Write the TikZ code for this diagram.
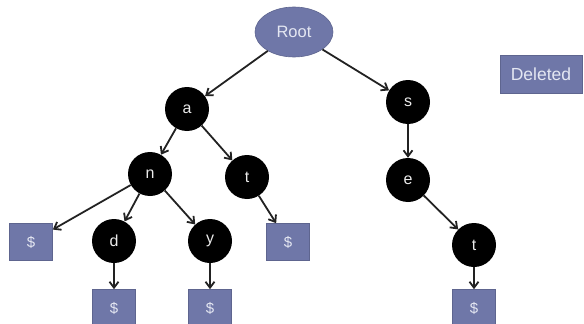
\documentclass[tikz,border=0pt]{standalone}
\usepackage{fontspec}
\setmainfont{Liberation Sans}
\usetikzlibrary{arrows.meta,shapes.geometric}
\definecolor{boxblue}{HTML}{6F77A8}
\definecolor{boxtext}{HTML}{E4E7F2}
\definecolor{linkgray}{HTML}{222222}

\begin{document}
\begin{tikzpicture}[x=1pt,y=1pt,yscale=-1,xscale=1,
  letter/.style={circle,fill=black,minimum size=44pt,inner sep=0pt,text=black!8,font=\fontsize{16}{19}\selectfont},
  endbox/.style={rectangle,fill=boxblue,draw=boxblue!85!black,line width=0.6pt,minimum width=43pt,minimum height=37pt,inner sep=0pt,text=boxtext,font=\fontsize{15}{18}\selectfont},
  link/.style={draw=linkgray,line width=1.8pt,-{Straight Barb[length=6pt,width=9pt]}}]

\useasboundingbox (0,0) rectangle (584,324);

\node (root) [ellipse,fill=boxblue,draw=boxblue!85!black,line width=0.6pt,minimum width=78pt,minimum height=50pt,inner sep=0pt,text=boxtext,font=\fontsize{16.5}{19}\selectfont] at (294,32) {Root};
\node (deleted) [endbox,minimum width=82pt,minimum height=38pt,font=\fontsize{17.5}{20}\selectfont] at (541,74) {Deleted};

\node (a) [letter] at (187,109) {a};
\node (s) [letter] at (408,102) {s};
\node (n) [letter] at (150,174) {n};
\node (at) [letter] at (247,177) {t};
\node (e) [letter] at (408,180) {e};
\node (et) [letter] at (474,245) {t};
\node (d) [letter] at (114,241) {d};
\node (y) [letter] at (210,241) {y};

\node (nend) [endbox] at (31,242) {\$};
\node (atend) [endbox] at (288,242) {\$};
\node (dend) [endbox] at (114,308) {\$};
\node (yend) [endbox] at (210,308) {\$};
\node (etend) [endbox] at (474,308) {\$};

\draw [link] (root) -- (a);
\draw [link] (root) -- (s);
\draw [link] (a) -- (n);
\draw [link] (a) -- (at);
\draw [link] (n) -- (nend);
\draw [link] (n) -- (d);
\draw [link] (n) -- (y);
\draw [link] (at) -- (atend);
\draw [link] (d) -- (dend);
\draw [link] (y) -- (yend);
\draw [link] (s) -- (e);
\draw [link] (e) -- (et);
\draw [link] (et) -- (etend);
\end{tikzpicture}
\end{document}
